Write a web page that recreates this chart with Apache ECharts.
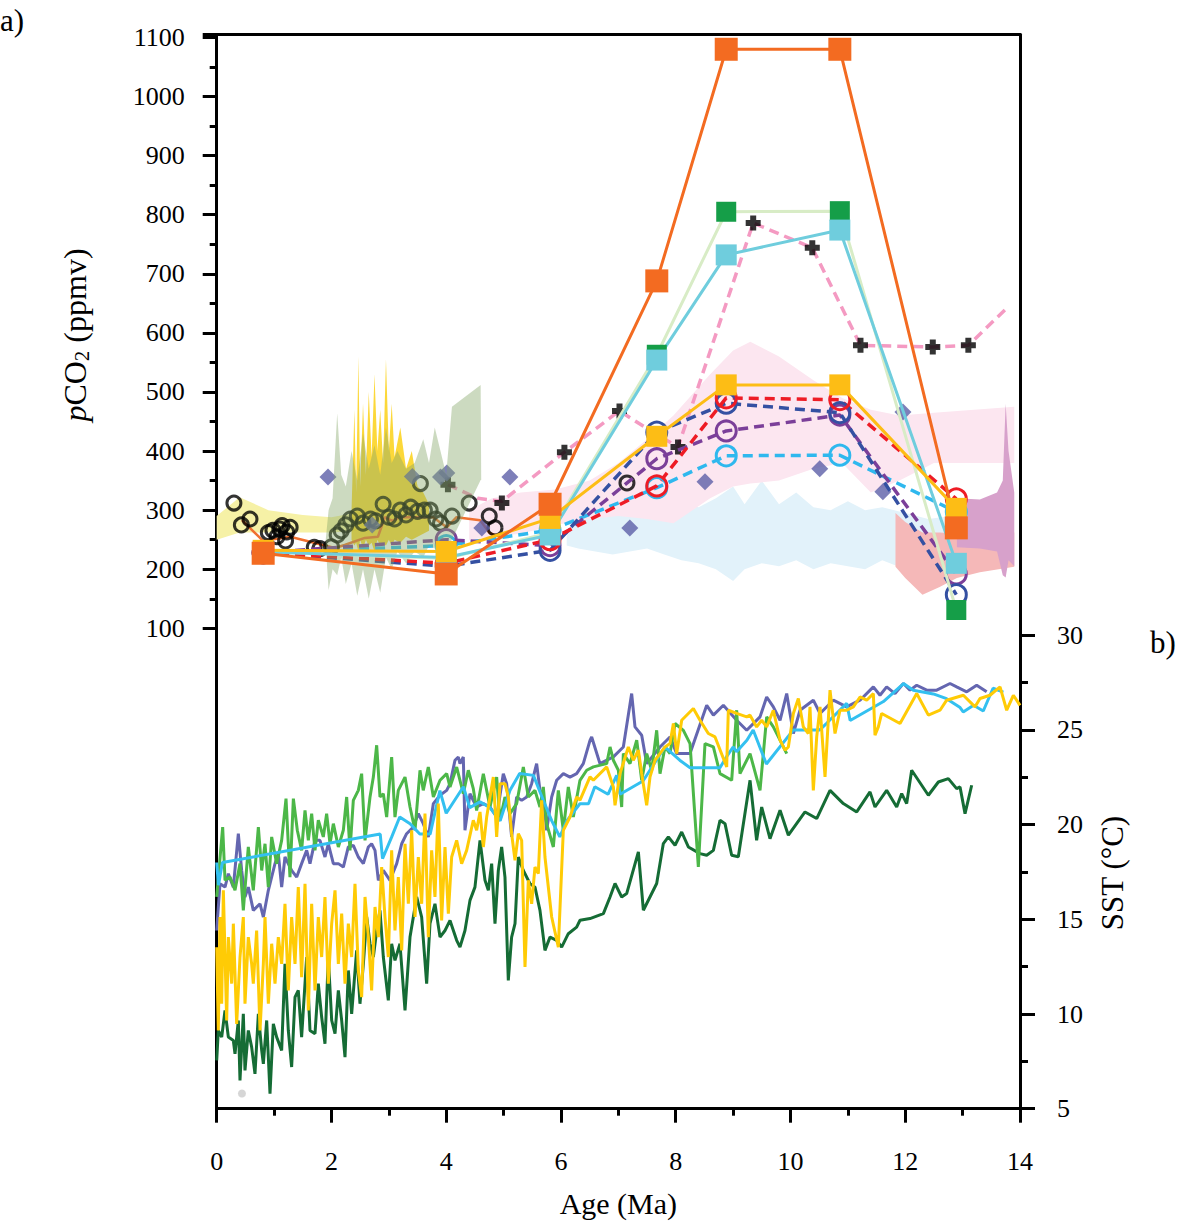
<!DOCTYPE html>
<html><head><meta charset="utf-8">
<script src="https://cdn.jsdelivr.net/npm/echarts@6/dist/echarts.min.js"></script>
<style>html,body{margin:0;padding:0;background:#fff}#c{width:1200px;height:1226px}</style>
</head><body><div id="c"></div>
<script>
// ---------- pCO2 proxy records (panel a) ----------
const ages7 = [0.81, 4.0, 5.81, 7.67, 8.88, 10.86, 12.89];
const orangeSq = [227, 192, 310, 688, 1080, 1080, 270];
const greenSq  = [230, 218, 262, 563, 805, 806, 131];
const cyanSq   = [229, 220, 258, 554, 732, 774, 210];
const goldSq   = [232, 230, 286, 425, 512, 512, 303];
const redCirc    = [228, 210, 250, 341, 490, 487, 319];
const blueCirc   = [228, 205, 232, 432, 481, 465, 157];
const purpleCirc = [228, 250, 240, 387, 434, 461, 192];
const lblueCirc  = [228, 240, 266, 338, 392, 393, 297];

const pinkAges = [4.03, 4.55, 4.97, 6.06, 7.02, 7.55, 8.04, 9.35, 10.38, 11.22, 12.48, 13.1, 13.77];
const pinkVals = [343, 320, 315, 398, 468, 435, 407, 786, 744, 579, 576, 579, 642];
const crossAges = [4.03, 4.97, 6.06, 7.02, 8.04, 9.35, 10.38, 11.22, 12.48, 13.1];
const crossVals = [343, 312, 398, 468, 407, 786, 744, 579, 576, 579];

const diamondAges = [1.94, 2.71, 3.41, 3.9, 4.01, 4.62, 5.11, 7.2, 8.51, 10.51, 11.61, 11.96];
const diamondVals = [356, 275, 357, 356, 363, 270, 356, 270, 348, 370, 331, 466];

const blackCircles = [[0.3,312],[0.43,275],[0.58,285],[0.9,262],[0.98,266],[1.1,268],[1.14,274],[1.22,263],[1.28,271],[1.2,248],[1.05,255],
  [1.7,237],[1.8,235],[2.0,238],[2.1,258],[2.17,265],[2.25,275],[2.33,285],[2.45,290],[2.55,278],[2.68,285],[2.77,282],[2.9,310],
  [3.0,288],[3.1,285],[3.2,300],[3.3,292],[3.38,305],[3.5,298],[3.55,345],[3.62,300],[3.72,300],[3.82,285],[3.9,278],[4.1,290],
  [4.4,312],[4.75,290],[4.85,270],[7.15,346]];

const orangeThin = [[0.44,283],[0.81,248],[1.28,255],[2.06,236],[2.23,241],[2.58,253],[2.81,255],[2.93,288],[3.06,282],[3.19,288],
  [3.46,288],[3.77,288],[4.01,271],[4.18,288],[4.59,283],[4.76,261],[4.94,255]];

// shaded uncertainty envelopes: [age, low, high]
const bandYellowPale = [[0,250,290],[0.4,262,322],[0.9,262,300],[1.5,262,292],[2.0,262,288],[2.4,265,295],[2.6,265,300]];
const bandGold = [[2.35,250,300],[2.4,240,470],[2.43,245,330],[2.47,230,560],[2.5,250,340],[2.55,235,480],[2.6,250,360],[2.65,240,500],
  [2.7,245,390],[2.75,230,530],[2.8,250,400],[2.85,240,470],[2.9,245,380],[2.95,240,555],[3.0,250,400],[3.05,240,480],[3.1,250,390],
  [3.2,245,440],[3.3,255,370],[3.4,250,400],[3.5,255,340],[3.6,260,330],[3.7,265,310]];
const bandOlive = [[1.9,240,250],[1.95,165,300],[2.02,200,320],[2.1,190,464],[2.17,220,360],[2.25,175,340],[2.35,210,400],[2.45,155,350],
  [2.55,200,430],[2.65,150,370],[2.75,200,410],[2.85,160,360],[2.95,220,440],[3.05,200,380],[3.15,230,400],[3.3,210,370],[3.45,230,380],
  [3.6,220,420],[3.7,240,380],[3.8,235,440],[3.9,240,400],[4.0,235,360],[4.1,250,475],[4.6,351,512],[4.61,351,353]];
const bandPink = [[4.4,250,300],[4.8,255,320],[5.3,260,330],[5.9,275,335],[6.5,285,350],[7.0,290,380],[7.5,285,420],[7.96,278,460],
  [8.6,320,530],[9.0,340,570],[9.3,345,585],[9.8,350,560],[10.4,370,520],[10.9,380,490],[11.4,330,470],[11.9,350,460],[12.5,380,465],[13.9,380,475]];
const bandLightBlue = [[6.1,240,260],[6.3,235,290],[6.6,230,300],[6.9,225,295],[7.2,230,290],[7.5,235,305],[7.8,225,295],[8.1,215,310],
  [8.4,210,305],[8.7,200,320],[9.0,180,340],[9.2,200,310],[9.5,210,350],[9.8,205,310],[10.1,215,330],[10.4,200,305],[10.7,210,300],
  [11.0,205,315],[11.3,200,300],[11.6,215,305],[12.0,200,295],[12.4,210,285],[12.8,205,290],[13.05,220,250]];
const bandSalmon = [[11.83,204,295],[12.0,185,280],[12.3,157,262],[12.6,170,262],[12.9,185,260],[13.3,195,258],[13.9,204,262]];
const bandMauve = [[12.9,237,320],[13.3,235,318],[13.6,230,330],[13.7,190,350],[13.75,186,480],[13.8,215,400],[13.9,205,330]];

// ---------- SST records (panel b) ----------
const sstPurple = [[0,14.41],[0.057,16.88],[0.145,16.7],[0.203,17.41],[0.29,16.7],[0.377,19.52],[0.435,17.58],[0.493,16.18],[0.551,16.7],
 [0.638,15.47],[0.755,15.82],[0.813,15.12],[0.9,16.53],[1.016,17.94],[1.074,18.47],[1.132,16.7],[1.19,18.29],[1.306,17.58],[1.394,17.23],
 [1.48,17.94],[1.568,18.64],[1.626,17.94],[1.713,19.17],[1.8,19.17],[1.887,18.29],[1.945,18.99],[2.033,17.94],[2.12,17.94],[2.207,17.76],
 [2.294,18.82],[2.381,18.9],[2.468,18.29],[2.556,17.94],[2.643,18.82],[2.7,18.99],[2.759,18.64],[2.817,17.06],[2.904,17.58],[3.02,17.06],
 [3.137,17.94],[3.224,18.99],[3.31,19.52],[3.427,19.87],[3.514,20.58],[3.6,20.05],[3.688,19.35],[3.776,21.11],[3.892,21.55],[4.008,21.81],
 [4.066,22.16],[4.153,23.4],[4.211,23.57],[4.24,23.22],[4.298,23.57],[4.327,19.7],[4.414,21.63],[4.53,20.93],[4.647,21.11],[4.763,20.93],
 [4.879,20.4],[4.995,22.69],[5.053,22.16],[5.14,19.35],[5.228,21.46],[5.315,21.28],[5.402,21.46],[5.489,22.16],[5.576,23.22],[5.634,21.81],
 [5.692,21.46],[5.75,19.7],[5.838,21.46],[5.925,22.34],[6.041,22.69],[6.157,22.51],[6.273,22.69],[6.389,23.22],[6.506,24.45],[6.535,24.63],
 [6.68,23.22],[6.913,23.58],[7.087,24.1],[7.232,26.92],[7.29,25.16],[7.407,24.72],[7.494,23.22],[7.726,24.1],[7.9,24.63],[8.017,23.75],
 [8.249,23.75],[8.54,26.3],[8.656,25.78],[8.83,26.3],[9.062,25.51],[9.237,24.98],[9.469,25.69],[9.585,26.74],[9.701,26.22],[9.818,25.51],
 [9.934,26.92],[10.05,24.81],[10.166,26.04],[10.398,26.57],[10.515,25.87],[10.747,26.57],[10.979,26.22],[11.212,26.57],[11.444,27.27],
 [11.56,26.83],[11.676,27.27],[11.822,26.92],[11.967,27.45],[12.083,27.1],[12.2,27.36],[12.374,27.1],[12.548,27.1],[12.78,27.45],
 [12.896,27.27],[13.071,27.01],[13.245,27.36],[13.419,27.01]];
const sstGreen = [[0,16.18],[0.104,19.87],[0.145,17.06],[0.232,17.23],[0.319,16.53],[0.406,17.94],[0.464,15.47],[0.551,18.82],[0.638,16.53],
 [0.726,19.87],[0.784,17.58],[0.842,18.99],[0.9,16.7],[0.958,19.35],[1.045,17.94],[1.132,19.17],[1.208,21.37],[1.277,17.23],[1.336,21.37],
 [1.405,19.7],[1.48,18.64],[1.539,20.75],[1.597,19.17],[1.655,20.58],[1.713,18.64],[1.771,20.23],[1.858,19.35],[1.916,20.58],[1.975,18.99],
 [2.033,20.05],[2.12,18.82],[2.207,19.7],[2.265,21.46],[2.323,18.64],[2.381,21.28],[2.468,21.81],[2.526,22.69],[2.585,19.17],[2.672,21.46],
 [2.73,22.51],[2.788,24.19],[2.846,21.46],[2.904,21.63],[2.962,20.4],[3.049,23.57],[3.107,20.4],[3.165,21.81],[3.282,22.51],[3.369,20.93],
 [3.456,19.7],[3.543,22.87],[3.6,21.81],[3.688,23.04],[3.776,21.46],[3.892,22.34],[4.008,22.69],[4.066,21.99],[4.182,23.04],[4.298,21.63],
 [4.385,22.87],[4.472,21.9],[4.53,20.75],[4.647,22.69],[4.763,20.93],[4.879,22.51],[4.937,20.23],[5.024,21.46],[5.111,20.58],[5.228,21.11],
 [5.344,23.04],[5.431,21.46],[5.547,21.81],[5.634,20.93],[5.692,21.99],[5.75,20.05],[5.867,18.82],[5.954,21.81],[6.041,19.7],[6.128,21.99],
 [6.215,20.4],[6.331,22.34],[6.448,22.87],[6.564,23.05],[6.797,23.22],[6.855,24.1],[6.913,23.4],[7.0,22.87],[7.058,20.93],[7.087,23.75],
 [7.203,23.22],[7.32,24.46],[7.407,22.34],[7.494,23.75],[7.581,22.87],[7.668,24.98],[7.726,22.69],[7.813,24.1],[7.9,23.75],[7.988,25.34],
 [8.133,24.98],[8.249,24.28],[8.394,17.77],[8.51,24.28],[8.656,24.1],[8.772,22.69],[8.975,22.34],[9.062,26.04],[9.12,22.69],[9.295,23.75],
 [9.469,21.81],[9.585,25.69],[9.701,25.16],[9.818,24.46],[9.934,23.75]];
const sstLightBlue = [[0,18.0],[0.03,16.8],[0.1,18.0],[2.85,19.5],[2.89,18.2],[3.05,19.35],[3.19,20.4],[3.37,20.05],[3.54,19.5],[3.72,19.5],
 [3.89,21.8],[4.0,20.6],[4.3,22.0],[4.41,20.9],[4.59,21.2],[4.76,20.9],[4.94,20.2],[5.11,21.8],[5.28,22.7],[5.52,22.6],[5.69,21.3],
 [5.84,20.2],[5.98,19.35],[6.1,20.2],[6.33,21.1],[6.48,21.1],[6.59,22.0],[6.82,21.6],[6.97,22.6],[7.03,21.6],[7.43,22.3],[7.81,24.1],
 [8.07,23.4],[8.25,23.0],[8.77,23.0],[8.89,23.6],[9.0,24.1],[9.06,23.85],[9.24,24.45],[9.35,25.0],[9.58,23.2],[10.05,25.0],[10.51,25.0],
 [10.63,25.35],[10.98,26.4],[11.04,25.5],[11.62,26.5],[11.97,27.45],[12.14,27.1],[12.49,26.9],[12.72,26.65],[12.95,26.2],[13.01,25.95],
 [13.19,26.3],[13.36,26.0],[13.53,27.2],[13.71,27.0]];
const sstGold = [[0,13.53],[0.028,9.13],[0.057,15.12],[0.087,10.54],[0.116,16.53],[0.174,9.66],[0.203,14.06],[0.261,11.6],[0.29,14.77],
 [0.348,9.48],[0.406,13.01],[0.464,15.12],[0.493,10.54],[0.551,14.06],[0.609,12.65],[0.638,11.6],[0.696,14.41],[0.755,9.13],[0.813,12.65],
 [0.842,15.12],[0.9,10.54],[0.958,13.71],[1.016,11.6],[1.074,14.06],[1.132,12.65],[1.19,15.82],[1.248,11.25],[1.306,15.12],[1.365,12.65],
 [1.422,16.7],[1.48,11.95],[1.539,16.88],[1.597,10.19],[1.655,15.82],[1.713,11.25],[1.771,15.12],[1.829,13.01],[1.887,16.18],[1.945,11.6],
 [2.004,14.77],[2.062,16.53],[2.12,12.65],[2.178,15.3],[2.236,11.6],[2.294,14.77],[2.352,13.01],[2.41,16.88],[2.468,12.3],[2.526,10.89],
 [2.585,16.18],[2.643,14.06],[2.7,11.25],[2.759,15.65],[2.817,14.06],[2.875,17.76],[2.933,15.12],[2.991,13.01],[3.049,18.64],[3.107,14.41],
 [3.165,17.23],[3.224,13.36],[3.282,18.99],[3.34,15.82],[3.398,19.7],[3.456,15.12],[3.514,18.29],[3.572,15.82],[3.63,20.58],[3.688,14.06],
 [3.746,18.64],[3.804,16.18],[3.862,21.11],[3.92,14.94],[3.979,18.82],[4.037,15.3],[4.095,18.29],[4.182,19.17],[4.269,17.94],[4.356,18.64],
 [4.472,20.23],[4.53,19.7],[4.589,20.67],[4.647,18.82],[4.705,20.4],[4.821,22.51],[4.879,19.35],[4.937,22.16],[5.024,22.16],[5.082,21.46],
 [5.14,19.52],[5.199,18.11],[5.257,19.52],[5.315,19.17],[5.373,12.48],[5.431,17.06],[5.489,15.82],[5.547,17.76],[5.605,17.41],[5.663,21.28],
 [5.721,18.29],[5.838,15.12],[5.954,13.53],[6.041,19.7],[6.157,20.4],[6.273,21.46],[6.332,21.29],[6.506,22.52],[6.564,22.34],[6.797,23.05],
 [6.913,21.99],[6.942,21.02],[7.029,22.69],[7.174,24.1],[7.261,23.4],[7.349,23.93],[7.407,22.69],[7.494,21.02],[7.552,22.52],[7.639,23.4],
 [7.726,23.75],[7.813,24.1],[7.9,24.28],[7.959,25.34],[8.017,23.75],[8.104,25.51],[8.307,26.13],[8.423,25.51],[8.568,24.81],[8.685,24.63],
 [8.888,23.05],[8.917,26.04],[9.062,25.87],[9.237,25.69],[9.295,25.78],[9.41,25.16],[9.498,25.51],[9.585,25.16],[9.701,26.04],[9.818,24.46],
 [9.905,23.93],[9.963,24.1],[10.05,25.87],[10.137,26.66],[10.224,25.16],[10.311,24.81],[10.34,26.22],[10.398,21.81],[10.457,24.63],
 [10.515,26.22],[10.602,22.52],[10.689,27.1],[10.776,24.81],[10.863,26.04],[10.979,26.04],[11.096,26.22],[11.212,26.74],[11.328,26.57],
 [11.444,26.92],[11.473,24.72],[11.531,25.16],[11.589,25.87],[11.909,25.34],[12.2,26.92],[12.403,25.78],[12.606,26.04],[12.722,26.57],
 [13.013,26.83],[13.216,26.22],[13.303,26.66],[13.477,26.83],[13.652,27.27],[13.768,26.04],[13.884,26.83],[14.0,26.3]];
const sstDarkGreen = [[0,7.55],[0.028,9.13],[0.087,8.78],[0.145,10.19],[0.203,8.78],[0.29,8.6],[0.319,7.9],[0.377,9.66],[0.406,6.49],
 [0.464,10.01],[0.493,7.02],[0.551,9.13],[0.609,8.25],[0.667,6.84],[0.726,10.01],[0.784,8.08],[0.813,7.37],[0.871,9.66],[0.929,5.79],
 [0.987,9.48],[1.045,8.78],[1.132,8.08],[1.19,12.65],[1.248,9.13],[1.306,7.2],[1.365,10.89],[1.422,11.25],[1.48,8.78],[1.568,13.01],
 [1.626,9.13],[1.713,8.96],[1.771,11.6],[1.829,9.84],[1.887,8.43],[1.945,13.01],[2.004,9.66],[2.062,8.96],[2.12,11.25],[2.178,9.66],
 [2.236,7.72],[2.294,12.3],[2.352,10.01],[2.439,13.36],[2.497,10.54],[2.556,12.65],[2.614,15.12],[2.672,13.71],[2.73,13.01],[2.788,14.41],
 [2.846,15.47],[2.904,13.01],[2.991,10.72],[3.049,13.71],[3.107,12.83],[3.194,13.71],[3.282,10.19],[3.369,14.06],[3.485,16.18],[3.572,15.12],
 [3.659,11.6],[3.717,14.77],[3.804,15.82],[3.892,14.06],[3.979,14.41],[4.066,14.94],[4.182,13.89],[4.24,13.53],[4.327,14.41],[4.414,16.0],
 [4.501,16.7],[4.589,19.17],[4.676,17.06],[4.734,16.53],[4.792,17.94],[4.85,14.77],[4.908,17.58],[4.966,18.82],[5.024,17.23],[5.082,11.77],
 [5.14,14.06],[5.199,14.77],[5.257,18.29],[5.344,17.58],[5.46,16.88],[5.547,16.7],[5.634,15.47],[5.721,13.36],[5.809,14.06],[5.925,13.89],
 [6.012,13.53],[6.128,14.24],[6.273,14.59],[6.332,14.95],[6.506,15.04],[6.739,15.3],[6.855,16.18],[6.942,16.89],[7.058,16.18],[7.145,16.36],
 [7.349,18.56],[7.436,15.48],[7.668,16.89],[7.784,19.0],[7.871,19.35],[7.988,18.91],[8.104,19.61],[8.22,18.82],[8.423,18.47],[8.54,18.38],
 [8.656,18.64],[8.772,20.23],[8.859,20.05],[8.975,18.38],[9.091,18.3],[9.295,22.34],[9.41,19.17],[9.498,20.93],[9.643,19.26],[9.818,20.76],
 [9.963,19.44],[10.253,20.67],[10.457,20.32],[10.689,21.81],[10.921,21.11],[11.154,20.67],[11.386,21.73],[11.473,20.93],[11.676,21.81],
 [11.851,20.93],[11.938,21.64],[12.025,21.11],[12.112,22.87],[12.403,21.55],[12.577,22.25],[12.751,22.43],[12.896,21.9],[12.955,21.99],
 [13.042,20.58],[13.158,22.08]];
const sstGreyDot = [[0.44,5.8]];

// ---------- axis tick values ----------
const pco2Ticks = [100,200,300,400,500,600,700,800,900,1000,1100];
const pco2Minor = [150,250,350,450,550,650,750,850,950,1050];
const sstTicks = [5,10,15,20,25,30];
const sstMinor = [7.5,12.5,17.5,22.5,27.5];

const F = "'Liberation Serif','Times New Roman',serif";
const zip = (xs, ys) => xs.map((x,i)=>[x, ys[i]]);

function band(pts, color, opacity, z) {
  return {type:'custom', xAxisIndex:0, yAxisIndex:0, z:z, silent:true, clip:false,
    data: pts, encode:{x:0, y:[1,2]},
    renderItem: function(params, api){
      if (params.dataIndex !== 0) return {type:'group', children:[]};
      const top = pts.map(p=>api.coord([p[0], p[2]]));
      const bot = pts.slice().reverse().map(p=>api.coord([p[0], p[1]]));
      return {type:'polygon', shape:{points: top.concat(bot)}, style:{fill: color, opacity: opacity}};
    }};
}
function sqLine(vals, lineColor, markColor, size, z) {
  return {type:'line', xAxisIndex:0, yAxisIndex:0, z:z, data: zip(ages7, vals), symbol:'rect', symbolSize:size,
    showAllSymbol:true, lineStyle:{color:lineColor, width:3}, itemStyle:{color:markColor}};
}
function circLine(vals, color, z) {
  return {type:'line', xAxisIndex:0, yAxisIndex:0, z:z, data: zip(ages7, vals), symbol:'circle', symbolSize:20,
    showAllSymbol:true, lineStyle:{color:color, width:3.5, type:[10,6]},
    itemStyle:{color:'rgba(255,255,255,0)', borderColor:color, borderWidth:3}};
}
function sstLine(data, color, z) {
  return {type:'line', xAxisIndex:0, yAxisIndex:1, z:z, data:data, showSymbol:false, symbol:'none',
    lineStyle:{color:color, width:3}, itemStyle:{color:color}};
}

const chart = echarts.init(document.getElementById('c'), null, {renderer:'svg'});
const axisLine = {show:true, onZero:false, lineStyle:{color:'#000', width:3}};
const plain = v => String(v);
chart.setOption({
  animation:false,
  backgroundColor:'#fff',
  grid:{left:216.7, right:180, top:34.5, bottom:117.3, containLabel:false},
  xAxis:[
    {type:'value', min:0, max:14, interval:2, position:'bottom',
     axisLine:axisLine, axisTick:{show:true, length:14, lineStyle:{color:'#000', width:3}},
     minorTick:{show:true, splitNumber:2, length:7, lineStyle:{color:'#000', width:3}},
     splitLine:{show:false}, minorSplitLine:{show:false},
     axisLabel:{fontSize:26, fontFamily:F, color:'#000', margin:40, formatter:plain},
     name:'Age (Ma)', nameLocation:'middle', nameGap:80, nameTextStyle:{fontSize:30, fontFamily:F, color:'#000'}},
    {type:'value', min:0, max:14, position:'top', axisLine:axisLine, axisTick:{show:false}, axisLabel:{show:false}, splitLine:{show:false}}
  ],
  yAxis:[
    {type:'value', min:-713, max:1105, position:'left', axisLine:axisLine, splitLine:{show:false},
     axisTick:{show:true, length:14, customValues: pco2Ticks.concat([1105]), lineStyle:{color:'#000', width:3}},
     axisLabel:{show:true, customValues: pco2Ticks, fontSize:26, fontFamily:F, color:'#000', margin:32, formatter:plain}},
    {type:'value', min:5, max:61.72, position:'right', axisLine:axisLine, splitLine:{show:false},
     axisTick:{show:true, length:15, customValues: sstTicks, lineStyle:{color:'#000', width:3}},
     axisLabel:{show:true, customValues: sstTicks, fontSize:26, fontFamily:F, color:'#000', margin:37, formatter:plain}},
    {type:'value', min:-713, max:1105, position:'left', axisLine:{show:false, onZero:false}, splitLine:{show:false},
     axisTick:{show:true, length:7, customValues: pco2Minor, lineStyle:{color:'#000', width:3}},
     axisLabel:{show:false}},
    {type:'value', min:5, max:61.72, position:'right', axisLine:{show:false, onZero:false}, splitLine:{show:false},
     axisTick:{show:true, length:8, customValues: sstMinor, lineStyle:{color:'#000', width:3}},
     axisLabel:{show:false}}
  ],
  graphic:[
    {type:'text', x:75, y:335, rotation:Math.PI/2, style:{text:'{i|p}CO{s|2} (ppmv)', fontSize:32, fontFamily:F, fill:'#000',
      align:'center', verticalAlign:'middle',
      rich:{i:{fontStyle:'italic', fontSize:32, fontFamily:F, fill:'#000'}, s:{fontSize:21, fontFamily:F, fill:'#000', padding:[14,0,0,0]}}}},
    {type:'text', x:1112, y:873, rotation:Math.PI/2, style:{text:'SST (°C)', fontSize:31, fontFamily:F, fill:'#000', align:'center', verticalAlign:'middle'}},
    {type:'text', x:0, y:20, style:{text:'a)', fontSize:31, fontFamily:F, fill:'#000', align:'left', verticalAlign:'middle'}},
    {type:'text', x:1150, y:642, style:{text:'b)', fontSize:31, fontFamily:F, fill:'#000', align:'left', verticalAlign:'middle'}}
  ],
  series:[
    band(bandLightBlue, '#e2f2fa', 1, 1),
    band(bandPink, '#fce6f0', 1, 1),
    band(bandSalmon, '#f5b8b8', 1, 1),
    band(bandMauve, '#d7a1cb', 1, 1),
    band(bandYellowPale, '#f6f1a6', 1, 1),
    band(bandGold, '#fcd116', 0.85, 1),
    sstLine(sstDarkGreen, '#156c35', 2),
    sstLine(sstPurple, '#6466b0', 2),
    sstLine(sstGreen, '#4cb748', 2),
    sstLine(sstLightBlue, '#33c0f0', 2),
    sstLine(sstGold, '#ffcb05', 2),
    {type:'scatter', xAxisIndex:0, yAxisIndex:1, z:2, data:sstGreyDot, symbol:'circle', symbolSize:8, itemStyle:{color:'#cccccc'}},
    {type:'line', xAxisIndex:0, yAxisIndex:0, z:3, data:orangeThin, showSymbol:false, symbol:'none', lineStyle:{color:'#f07030', width:2.5}},
    {type:'scatter', xAxisIndex:0, yAxisIndex:0, z:3, data:blackCircles, symbol:'circle', symbolSize:14,
      itemStyle:{color:'rgba(255,255,255,0)', borderColor:'#000', borderWidth:3}},
    {type:'line', xAxisIndex:0, yAxisIndex:0, z:3, data:zip(pinkAges, pinkVals), showSymbol:false, symbol:'none',
      lineStyle:{color:'#f49ac2', width:3.5, type:[10,6]}},
    {type:'scatter', xAxisIndex:0, yAxisIndex:0, z:3, data:zip(crossAges, crossVals),
      symbol:'path://M3,0 L7,0 L7,3 L10,3 L10,7 L7,7 L7,10 L3,10 L3,7 L0,7 L0,3 L3,3 Z', symbolSize:15, itemStyle:{color:'#000'}},
    {type:'scatter', xAxisIndex:0, yAxisIndex:0, z:3, data:zip(diamondAges, diamondVals), symbol:'diamond', symbolSize:[17,17],
      itemStyle:{color:'#5d5fa7'}},
    circLine(lblueCirc, '#2fb8ee', 4),
    circLine(purpleCirc, '#7b3f99', 4),
    circLine(blueCirc, '#3450a2', 4),
    circLine(redCirc, '#ee1c25', 4),
    band(bandOlive, '#86a86a', 0.42, 5),
    sqLine(greenSq, '#d8ecc6', '#159e48', 20, 6),
    sqLine(cyanSq, '#6fcddd', '#6fcddd', 21, 6),
    sqLine(goldSq, '#fdbd15', '#fdbd15', 21, 6),
    sqLine(orangeSq, '#f36b21', '#f36b21', 23, 6)
  ]
});
</script></body></html>
